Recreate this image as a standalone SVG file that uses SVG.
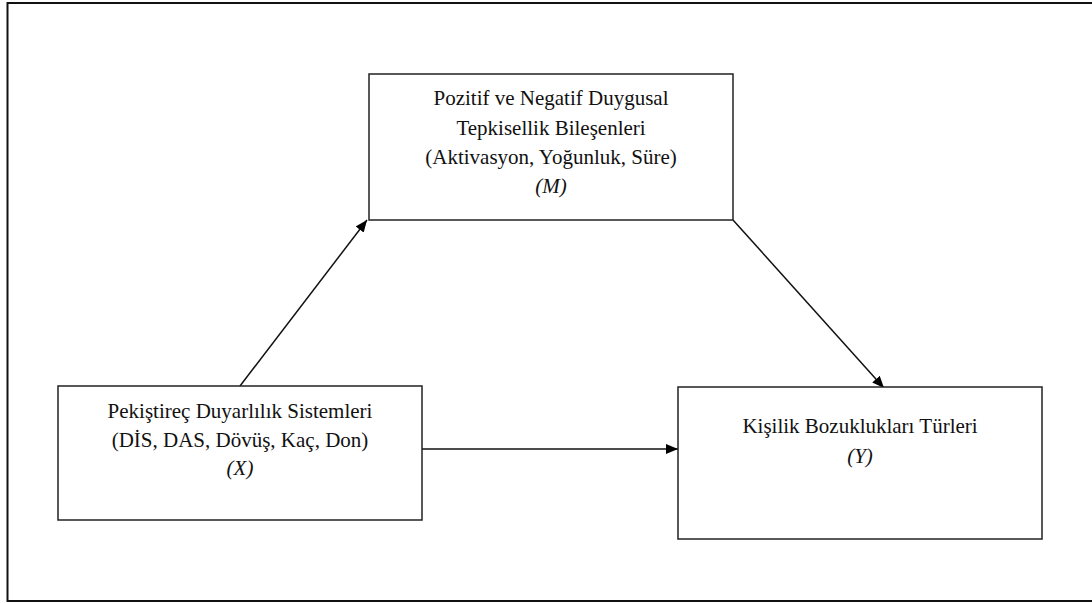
<svg xmlns="http://www.w3.org/2000/svg" width="1092" height="603" viewBox="0 0 1092 603">
<style>
.box{fill:#fff;stroke:#222;stroke-width:1.5}
.t{font-family:"Liberation Serif","Times New Roman",serif;font-size:21px;fill:#111;text-anchor:middle}
.i{font-style:italic}
.c{stroke:#111;stroke-width:1.5;fill:none}
</style>
<defs>
<marker id="ah" viewBox="0 0 12 10" refX="12" refY="5" markerWidth="12" markerHeight="10" markerUnits="userSpaceOnUse" orient="auto">
<path d="M0,0 L12,5 L0,10 Z" fill="#000"/>
</marker>
</defs>
<rect x="0" y="0" width="1092" height="603" fill="#fff"/>
<rect x="7.5" y="3" width="1100" height="598" fill="none" stroke="#111" stroke-width="2"/>
<g id="connectors">
<line class="c" x1="240" y1="386" x2="367" y2="220" marker-end="url(#ah)"/>
<line class="c" x1="733" y1="220" x2="884" y2="388" marker-end="url(#ah)"/>
<line class="c" x1="422" y1="449" x2="678" y2="449" marker-end="url(#ah)"/>
</g>
<g id="node-m">
<rect class="box" x="369" y="74" width="364" height="146"/>
<text class="t" x="551" y="105">Pozitif ve Negatif Duygusal</text>
<text class="t" x="551" y="135">Tepkisellik Bileşenleri</text>
<text class="t" x="551" y="164">(Aktivasyon, Yoğunluk, Süre)</text>
<text class="t i" x="551" y="193">(M)</text>
</g>
<g id="node-x">
<rect class="box" x="58" y="386" width="364" height="134"/>
<text class="t" x="240" y="418">Pekiştireç Duyarlılık Sistemleri</text>
<text class="t" x="240" y="447">(DİS, DAS, Dövüş, Kaç, Don)</text>
<text class="t i" x="240" y="475">(X)</text>
</g>
<g id="node-y">
<rect class="box" x="678" y="387" width="364" height="152"/>
<text class="t" x="860" y="433">Kişilik Bozuklukları Türleri</text>
<text class="t i" x="860" y="463">(Y)</text>
</g>
</svg>
